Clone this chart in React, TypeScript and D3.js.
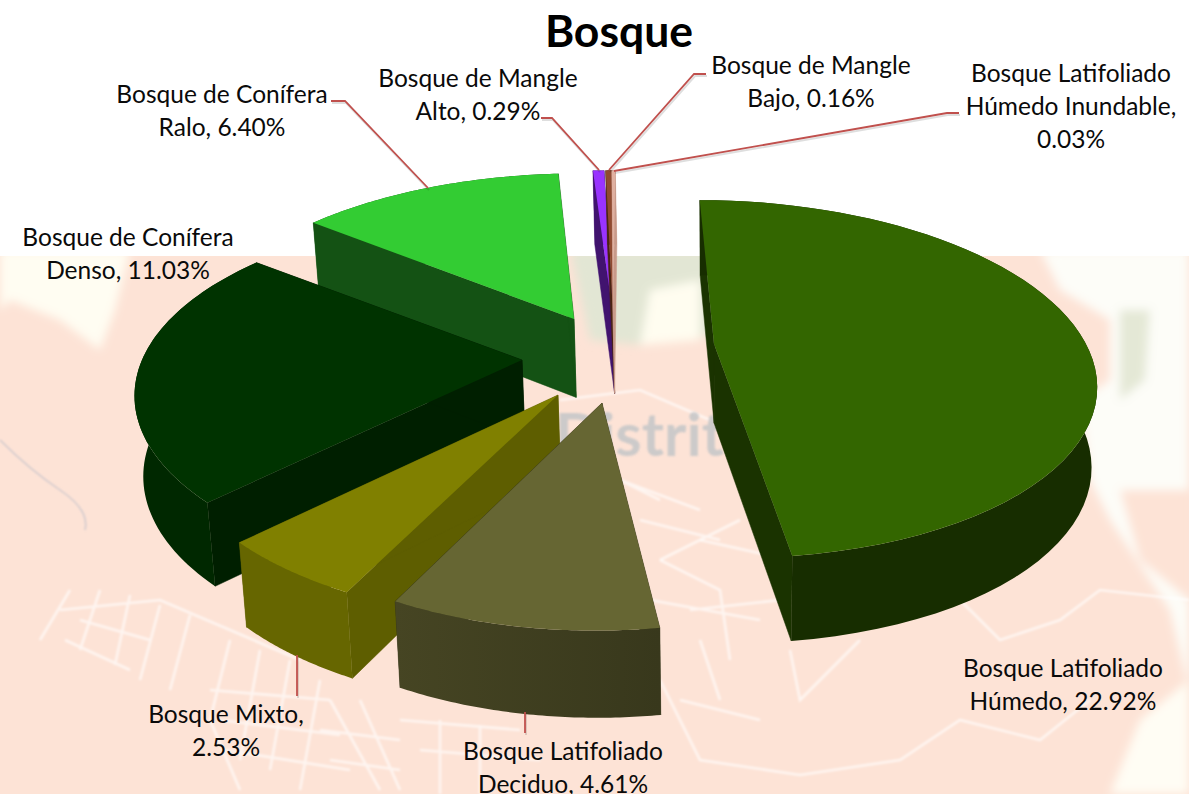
import React from "react";
import * as d3 from "d3";

const categories = [
  "Bosque Latifoliado Húmedo",
  "Bosque Latifoliado Deciduo",
  "Bosque Mixto",
  "Bosque de Conífera Denso",
  "Bosque de Conífera Ralo",
  "Bosque de Mangle Alto",
  "Bosque de Mangle Bajo",
  "Bosque Latifoliado Húmedo Inundable",
];
const values = [22.92, 4.61, 2.53, 11.03, 6.4, 0.29, 0.16, 0.03];
const topColors = ["#336600", "#666633", "#808000", "#003300", "#33cc33", "#9933ff", "#8f4a30", "#e0b0a0"];
const rimColors = ["#172d00", "#403f20", "#666600", "#002800", "#145214", "#41136f", "#4a2412", "#c89a8a"];
const cutColors = ["#1a3300", "#333319", "#5e5e00", "#001f00", "#145214", "#41136f", "#4a2412", "#c89a8a"];
const labelLines = [
  ["Bosque Latifoliado", "Húmedo, 22.92%"],
  ["Bosque Latifoliado", "Deciduo, 4.61%"],
  ["Bosque Mixto,", "2.53%"],
  ["Bosque de Conífera", "Denso, 11.03%"],
  ["Bosque de Conífera", "Ralo, 6.40%"],
  ["Bosque de Mangle", "Alto, 0.29%"],
  ["Bosque de Mangle", "Bajo, 0.16%"],
  ["Bosque Latifoliado", "Húmedo Inundable,", "0.03%"],
];

// layout: per-slice placement of the exploded wedge in the picture's perspective
const ax = [714, 602, 558, 522, 574, 613, 613, 613];
const ay = [344, 403, 395, 360, 319, 315, 315, 315];
const rx = [372, 371, 381, 380, 377, 350, 350, 350];
const ry = [172, 183, 182, 176, 174, 173, 173, 173];
const tx = [-17, 5, 4, 0, 5, -2, 0, 0];
const skew = [1.005, 1, 1, 1, 1, 1, 1, 3];
const labelX = [1063, 563, 226, 128, 222, 478, 811, 1071];
const labelY = [677, 760, 723, 246, 103, 87, 74, 82];
const leaders: [number, number][][] = [
  [],
  [[525, 712], [525, 733]],
  [[297, 655], [297, 696]],
  [],
  [[331, 101], [345, 101], [428, 188]],
  [[541, 118], [552, 118], [599, 170]],
  [[706, 74], [694, 74], [609, 170]],
  [[959, 113], [947, 113], [614, 171]],
];
const paintOrder = [4, 5, 6, 7, 0, 3, 2, 1];
const PERSP = 0.196;

const pieData = d3.pie<number>().sort(null).startAngle(0).endAngle(2 * Math.PI)(values);

function project(i: number, theta: number): [number, number] {
  const X = Math.sin(theta);
  const Y = Math.cos(theta);
  const w = 1 + PERSP * Y;
  return [ax[i] + (rx[i] * X + tx[i] * Y) / w, ay[i] - (ry[i] * Y) / w];
}
const lower = (p: [number, number]): [number, number] => [720 + (p[0] - 720) * 0.985, p[1] + 69.5 + 0.028 * p[1]];
const line = d3.line();

function rim(i: number): [number, number][] {
  const a0 = pieData[i].startAngle;
  const a1 = a0 + (pieData[i].endAngle - a0) * skew[i];
  return d3.range(0, 61).map((k) => project(i, a0 + ((a1 - a0) * k) / 60));
}

const roads = [
  "M60 610 L160 600 L300 660 M70 590 L40 640 M100 590 L80 650 M130 595 L115 665 M160 605 L140 680 M190 615 L170 690 M80 620 L150 640 M65 640 L130 670",
  "M230 640 L210 720 L240 790 M260 650 L240 760 M290 660 L270 770 M320 680 L300 790 M210 690 L330 700 M220 720 L340 735 M225 750 L350 770",
  "M330 700 L380 790 M360 700 L400 790 M320 730 L400 740 M330 760 L400 770 M400 720 L520 730 M420 750 L540 760 M440 720 L440 794 M480 725 L480 794",
  "M660 560 L720 590 L730 660 M690 610 L780 600 M700 540 L790 560 M650 600 L760 620 M660 680 L700 760 L800 775 M680 700 L760 720 M700 640 L720 700 M790 650 L800 700 L860 640",
  "M800 775 L900 760 L960 720 L1040 740 L1090 700 M960 600 L1000 640 L1060 620 L1100 590 L1189 600",
  "M560 400 L640 390 L710 420 M620 480 L700 510 M640 520 L720 540 M660 560 L740 520 M600 470 L660 500",
];

export default function App() {
  return (
    <svg width={1189} height={794} style={{ position: "absolute", left: 0, top: 0, background: "#fff" }}>
      <defs>
        {values.map((_, i) => {
          const xs = rim(i).map((p) => p[0]);
          const c = d3.color(rimColors[i])!;
          return (
            <linearGradient key={i} id={`rim${i}`} gradientUnits="userSpaceOnUse" x1={d3.min(xs)} x2={d3.max(xs)} y1={0} y2={0}>
              <stop offset="0" stopColor={i === 1 ? c.brighter(0.25).toString() : rimColors[i]} />
              <stop offset="1" stopColor={i === 1 ? c.darker(0.35).toString() : rimColors[i]} />
            </linearGradient>
          );
        })}
        <filter id="blur" x="-10%" y="-10%" width="120%" height="120%"><feGaussianBlur stdDeviation="5" /></filter>
        <filter id="soft" x="-5%" y="-5%" width="110%" height="110%"><feGaussianBlur stdDeviation="0.9" /></filter>
        <clipPath id="mapClip"><rect x={0} y={256} width={1189} height={538} /></clipPath>
      </defs>

      <g clipPath="url(#mapClip)">
        <rect x={0} y={256} width={1189} height={538} fill="#fde3d6" />
        <g filter="url(#blur)">
          <path d="M0 250 L130 250 L115 310 L100 350 L60 320 L10 300 L0 310 Z" fill="#fffdf2" />
          <path d="M1040 250 L1189 250 L1189 690 L1170 610 L1110 520 L1090 480 L1080 400 L1110 380 L1110 320 L1060 290 Z" fill="#fdfdf8" />
          <path d="M1120 490 L1189 490 L1189 600 L1140 560 Z" fill="#fde3d6" />
          <path d="M570 250 L715 250 L715 335 L640 345 L590 340 Z" fill="#e2e6d4" />
          <path d="M650 290 L700 280 L700 340 L640 345 Z" fill="#fffdf0" />
          <path d="M1120 310 L1150 310 L1145 380 L1120 400 Z" fill="#e4e8d6" />
          <path d="M1140 720 L1189 680 L1189 794 L1110 794 Z" fill="#fffdf4" />
        </g>
        <g fill="none" stroke="#ffffff" strokeOpacity={0.65} strokeWidth={2.6} filter="url(#soft)">
          {roads.map((d, i) => <path key={i} d={d} />)}
        </g>
        <path d="M0 440 Q30 470 60 490 T85 530" fill="none" stroke="#cfc8cc" strokeWidth={1.5} filter="url(#soft)" />
        <text x={555} y={456} filter="url(#soft)" fontFamily="Lato, sans-serif" fontWeight={700} fontSize={60} fill="#c4c6c8" opacity={0.85}>Distrito</text>
      </g>

      {paintOrder.map((i) => {
        const r = rim(i);
        const apex: [number, number] = [ax[i], ay[i]];
        const first = r[0];
        const last = r[r.length - 1];
        const lowRim = r.map(lower).reverse();
        return (
          <g key={categories[i]}>
            <path d={line([first, apex, lower(apex), lower(first)])! + "Z"} fill={cutColors[i]} stroke={cutColors[i]} strokeWidth={0.5} />
            <path d={line([last, apex, lower(apex), lower(last)])! + "Z"} fill={cutColors[i]} stroke={cutColors[i]} strokeWidth={0.5} />
            <path d={line([...r, ...lowRim])! + "Z"} fill={`url(#rim${i})`} />
            <path d={line([apex, ...r])! + "Z"} fill={topColors[i]} />
          </g>
        );
      })}

      {leaders.map((pts, i) =>
        pts.length ? (
          <g key={i} fill="none">
            <path d={line(pts.map((p) => [p[0] + 1, p[1] + 2] as [number, number]))!} stroke="#000" strokeOpacity={0.13} strokeWidth={2} />
            <path d={line(pts)!} stroke="#c0504d" strokeWidth={1.8} />
          </g>
        ) : null
      )}

      <text x={619} y={47} textAnchor="middle" fontFamily="Lato, sans-serif" fontWeight={700} fontSize={44.5} fill="#000">Bosque</text>
      {labelLines.map((lines, i) => (
        <text key={i} textAnchor="middle" fontFamily="Lato, sans-serif" fontSize={24.5} fill="#0a0a0a">
          {lines.map((l, k) => (
            <tspan key={k} x={labelX[i]} y={labelY[i] + k * 33}>{l}</tspan>
          ))}
        </text>
      ))}
    </svg>
  );
}
